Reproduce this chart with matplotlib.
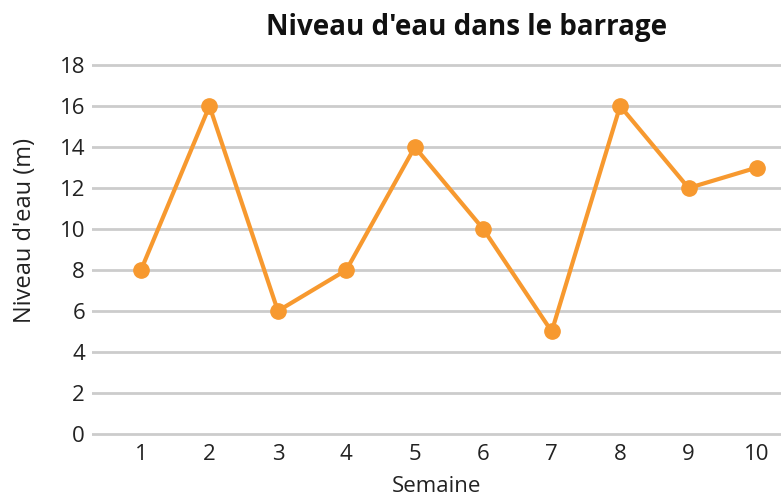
import matplotlib
matplotlib.use("Agg")
import matplotlib.pyplot as plt

weeks = [1, 2, 3, 4, 5, 6, 7, 8, 9, 10]
levels = [8, 16, 6, 8, 14, 10, 5, 16, 12, 13]
y_ticks = [0, 2, 4, 6, 8, 10, 12, 14, 16, 18]

plt.rcParams['font.family'] = ['Open Sans', 'DejaVu Sans']

fig = plt.figure(figsize=(7.81, 5), dpi=100)
ax = fig.add_axes([92 / 781, 1 - 436 / 500, 1 - 92 / 781, (436 - 63) / 500])

ax.plot(weeks, levels, color='#F7992F', linewidth=3, marker='o', markersize=11,
        solid_joinstyle='round', zorder=3, clip_on=False)

ax.set_xlim(0.284, 10.35)
ax.set_ylim(-0.1, 18.1)
ax.set_yticks(y_ticks)
ax.set_xticks(weeks)
ax.grid(axis='y', color='#cccccc', linewidth=2)
ax.set_axisbelow(True)
for s in ax.spines.values():
    s.set_visible(False)
ax.tick_params(length=0, labelsize=16, colors='#222222', pad=5)
ax.tick_params(axis='x', pad=6)

ax.set_xlabel('Semaine', fontsize=16, color='#222222', labelpad=8)
ax.set_ylabel("Niveau d'eau (m)", fontsize=17, color='#222222')
ax.yaxis.set_label_coords(-0.08, 0.55)
fig.text(467 / 781, 1 - 28 / 500, "Niveau d'eau dans le barrage", fontsize=20,
         fontweight='bold', color='#111111', ha='center', va='center')

fig.savefig('out.png', dpi=100)
